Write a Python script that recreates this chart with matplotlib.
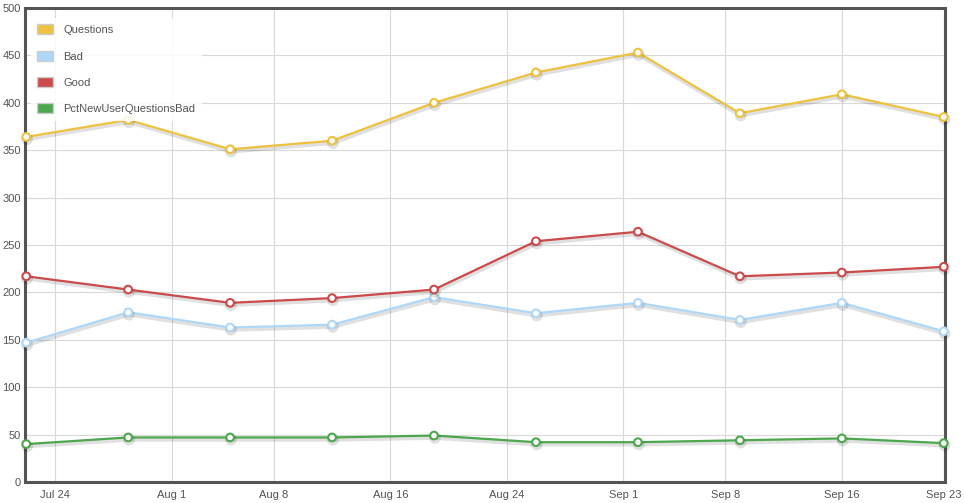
import matplotlib
matplotlib.use("Agg")
import matplotlib.pyplot as plt
import matplotlib.patheffects as pe
from matplotlib.patches import Rectangle
import numpy as np
import datetime as dt

plt.rcParams['font.family'] = ['Liberation Sans', 'DejaVu Sans']

dates = ["2013-07-22", "2013-07-29", "2013-08-05", "2013-08-12", "2013-08-19",
         "2013-08-26", "2013-09-02", "2013-09-09", "2013-09-16", "2013-09-23"]
questions = [364, 382, 351, 360, 400, 432, 453, 389, 409, 385]
bad = [147, 179, 163, 166, 195, 178, 189, 171, 189, 159]
good = [217, 203, 189, 194, 203, 254, 264, 217, 221, 227]
pct_bad = [40, 47, 47, 47, 49, 42, 42, 44, 46, 41]

series_names = ["Questions", "Bad", "Good", "PctNewUserQuestionsBad"]
series_colors = ["#edc240", "#afd8f8", "#cb4b4b", "#4da74d"]

tick_dates = ["2013-07-24", "2013-08-01", "2013-08-08", "2013-08-16", "2013-08-24",
              "2013-09-01", "2013-09-08", "2013-09-16", "2013-09-23"]
tick_labels = ["Jul 24", "Aug 1", "Aug 8", "Aug 16", "Aug 24",
               "Sep 1", "Sep 8", "Sep 16", "Sep 23"]

x = [dt.datetime.strptime(d, "%Y-%m-%d") for d in dates]
xt = [dt.datetime.strptime(d, "%Y-%m-%d") for d in tick_dates]

fig = plt.figure(figsize=(9.64, 5.03), dpi=100)
ax = fig.add_axes([25/964, 1-482/503, 920/964, 474/503])

text_color = "#545454"
for vals, col, name in zip([questions, bad, good, pct_bad], series_colors, series_names):
    ax.plot(x, vals, color=col, lw=1.6, marker="o", ms=5.5, mfc="white", mec=col,
            mew=1.5, zorder=3, clip_on=False,
            path_effects=[pe.SimpleLineShadow(offset=(0.6, -1.6), shadow_color="#000000", alpha=0.12, linewidth=3.0),
                          pe.Normal()])

ax.set_xlim(x[0] - dt.timedelta(hours=2), x[-1] + dt.timedelta(hours=2))
ax.set_ylim(0, 500)
ax.set_yticks(np.arange(0, 501, 50))
ax.set_xticks(xt)
ax.set_xticklabels(tick_labels)
ax.grid(True, color="#d8d8d8", lw=0.8)
ax.set_axisbelow(True)
ax.tick_params(axis="both", length=0, labelsize=8, colors=text_color)
ax.tick_params(axis="y", pad=3)
ax.tick_params(axis="x", pad=6)
for s in ax.spines.values():
    s.set_color("#545454")
    s.set_linewidth(2.2)

# legend (flot style)
handles = [Rectangle((0, 0), 1, 1, facecolor=c, edgecolor="#cccccc", lw=1) for c in series_colors]
leg = ax.legend(handles, series_names, loc="upper left", bbox_to_anchor=(0.0, 0.991),
                frameon=True, framealpha=0.85, edgecolor="none", facecolor="white",
                fontsize=8, labelcolor=text_color, handlelength=1.4, handleheight=1.0,
                handletextpad=0.95, labelspacing=1.4, borderpad=0.6, borderaxespad=0.5,
                fancybox=False)
leg.set_zorder(5)

fig.savefig("out.png", dpi=100)
